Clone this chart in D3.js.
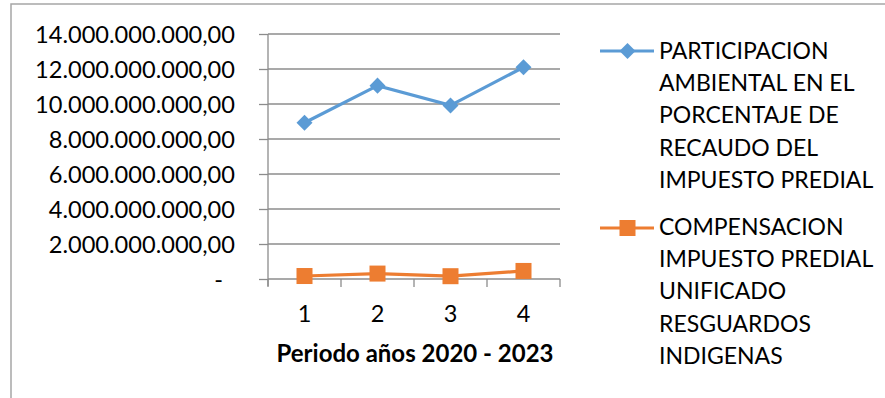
<!DOCTYPE html>
<html>
<head>
<meta charset="utf-8">
<script src="https://cdn.jsdelivr.net/npm/d3@7"></script>
<style>
    body { margin: 0; background: #fff; font-family: Lato, "Open Sans", sans-serif; }
    svg text { fill: #000; }
</style>
</head>
<body>
<svg id="my-svg"></svg>
<script>
    // data
    var periodos = ["1", "2", "3", "4"];
    var participacion = [8.93e9, 11.05e9, 9.92e9, 12.1e9];
    var compensacion = [0.17e9, 0.31e9, 0.16e9, 0.46e9];
    var yTicks = [0, 2e9, 4e9, 6e9, 8e9, 10e9, 12e9, 14e9];
    var serieNames = [
        ["PARTICIPACION", "AMBIENTAL EN EL", "PORCENTAJE DE", "RECAUDO DEL", "IMPUESTO PREDIAL"],
        ["COMPENSACION", "IMPUESTO PREDIAL", "UNIFICADO", "RESGUARDOS", "INDIGENAS"]
    ];
    var xTitle = "Periodo años 2020 - 2023";

    var vWidth = 885, vHeight = 398;
    var blue = "#5b9bd5", orange = "#ed7d31", grid = "#8c8c8c";

    var svg = d3.select("#my-svg").attr("width", vWidth).attr("height", vHeight);

    // outer frame (only top and left visible)
    svg.append("path")
        .attr("d", "M11," + vHeight + "V4H" + vWidth)
        .attr("fill", "none").attr("stroke", "#a6a6a6").attr("stroke-width", 1.5);

    var x = d3.scaleBand().domain(periodos).range([268, 560]);
    var y = d3.scaleLinear().domain([0, 14e9]).range([279, 34]);

    var loc = d3.formatLocale({decimal: ",", thousands: ".", grouping: [3], currency: ["$", ""]});
    var fmt = loc.format(",.2f");

    // gridlines
    svg.append("g").selectAll("line").data(yTicks).enter().append("line")
        .attr("x1", 268).attr("x2", 560)
        .attr("y1", d => y(d)).attr("y2", d => y(d))
        .attr("stroke", grid).attr("stroke-width", 1.3);

    // y axis
    var yAxis = svg.append("g").attr("transform", "translate(268,0)")
        .call(d3.axisLeft(y).tickValues(yTicks).tickSize(9).tickPadding(24)
            .tickFormat(d => d === 0 ? "-" : fmt(d)));
    yAxis.select(".domain").attr("stroke", grid).attr("stroke-width", 1.3).attr("d", "M0,34V286");
    yAxis.selectAll(".tick line").attr("stroke", grid).attr("stroke-width", 1.3);
    yAxis.selectAll(".tick text")
        .attr("font-family", "Lato, sans-serif").attr("font-size", 23.6).attr("fill", "#000")
        .attr("dy", "0.36em")
        .attr("dx", d => d === 0 ? -12 : 0);

    // x axis: ticks on the band edges
    var edges = periodos.map(d => x(d)).concat([x.range()[1]]);
    svg.append("g").selectAll("line").data(edges).enter().append("line")
        .attr("x1", d => d).attr("x2", d => d)
        .attr("y1", 279).attr("y2", 287)
        .attr("stroke", grid).attr("stroke-width", 1.3);
    svg.append("g").selectAll("text").data(periodos).enter().append("text")
        .attr("x", d => x(d) + x.bandwidth() / 2).attr("y", 322)
        .attr("text-anchor", "middle").attr("font-size", 23.5)
        .text(d => d);
    svg.append("text")
        .attr("x", 415).attr("y", 362).attr("text-anchor", "middle")
        .attr("font-size", 24).attr("font-weight", "bold")
        .text(xTitle);

    var cx = d => x(d) + x.bandwidth() / 2;
    var line = d3.line().x((d, i) => cx(periodos[i])).y(d => y(d));

    // series 1
    svg.append("path").datum(participacion).attr("d", line)
        .attr("fill", "none").attr("stroke", blue).attr("stroke-width", 3.2);
    svg.append("g").selectAll("path").data(participacion).enter().append("path")
        .attr("d", d3.symbol(d3.symbolSquare, 128))
        .attr("transform", (d, i) => "translate(" + cx(periodos[i]) + "," + y(d) + ") rotate(45)")
        .attr("fill", blue);

    // series 2
    svg.append("path").datum(compensacion).attr("d", line)
        .attr("fill", "none").attr("stroke", orange).attr("stroke-width", 3.2);
    svg.append("g").selectAll("rect").data(compensacion).enter().append("rect")
        .attr("x", (d, i) => cx(periodos[i]) - 8).attr("y", d => y(d) - 8)
        .attr("width", 16).attr("height", 16)
        .attr("fill", orange);

    // legend
    var legend = [
        {color: blue, shape: "diamond", ly: 51, ty: 59},
        {color: orange, shape: "square", ly: 228, ty: 235}
    ];
    legend.forEach(function (l, k) {
        var g = svg.append("g");
        g.append("line").attr("x1", 600).attr("x2", 654).attr("y1", l.ly).attr("y2", l.ly)
            .attr("stroke", l.color).attr("stroke-width", 3.2);
        if (l.shape === "diamond") {
            g.append("path").attr("d", d3.symbol(d3.symbolSquare, 128))
                .attr("transform", "translate(627.5," + l.ly + ") rotate(45)").attr("fill", l.color);
        } else {
            g.append("rect").attr("x", 619.5).attr("y", l.ly - 8).attr("width", 16).attr("height", 16)
                .attr("fill", l.color);
        }
        g.selectAll("text").data(serieNames[k]).enter().append("text")
            .attr("x", 659).attr("y", (d, i) => l.ty + i * 32.2)
            .attr("font-size", 23)
            .text(d => d);
    });
</script>
</body>
</html>
